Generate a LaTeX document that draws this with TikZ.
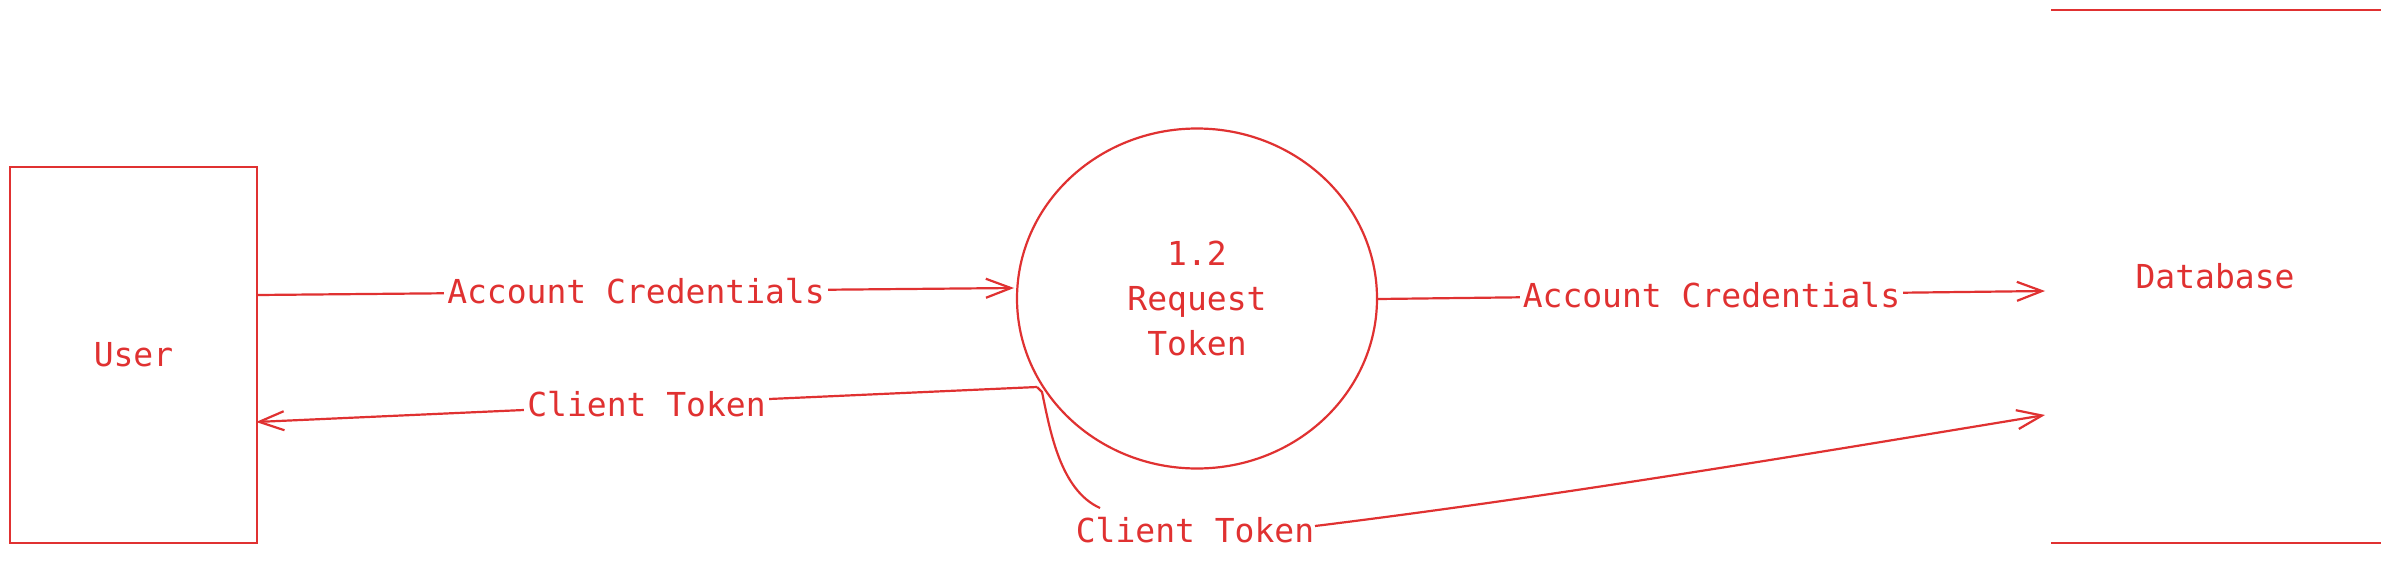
\documentclass[tikz,border=0pt]{standalone}
\usepackage{fontspec}
\newfontfamily\handfont{DejaVu Sans Mono}
\usetikzlibrary{arrows.meta,shapes.geometric}
\definecolor{exred}{RGB}{224,49,49}
\begin{document}
\begin{tikzpicture}[x=1pt,y=-1pt,
  every node/.style={font={\handfont\fontsize{33}{45}\selectfont}, text=exred},
  line/.style={draw=exred, line width=2.2pt},
  arr/.style={line, -{Straight Barb[length=25pt,width=19pt,line width=2.2pt]}},
  lab/.style={fill=white, inner sep=3pt},
]
\useasboundingbox (0,0) rectangle (2390,565);
\fill[white] (0,0) rectangle (2390,565);
% nodes
\node[line, rectangle, minimum width=247pt, minimum height=376pt, inner sep=0pt] (user) at (133.5,355) {User};
\node[line, ellipse, minimum width=360pt, minimum height=340pt, inner sep=0pt, align=center] (proc) at (1197,298.5) {1.2\\Request\\Token};
\node (db) at (2215,276) {Database};
\draw[line] (2051,10) coordinate (dbtl) -- (2381,10) coordinate (dbtr);
\draw[line] (2051,543) coordinate (dbbl) -- (2381,543) coordinate (dbbr);
% connector end points
\coordinate (u1) at (258,295);
\coordinate (p1) at (1014,288);
\coordinate (p2) at (1378,299);
\coordinate (d1) at (2045,291);
\coordinate (split) at (1037,387);
\coordinate (hook) at (1042,392);
\coordinate (u2) at (256,422);
\coordinate (c1) at (1100,508);
\coordinate (c2) at (1315,526);
\coordinate (d2) at (2045,415);
% connectors
\draw[arr] (u1) -- node[lab] (l1) {Account Credentials} (p1);
\draw[arr] (p2) -- node[lab] (l2) {Account Credentials} (d1);
\draw[arr] (split) -- node[lab] (l3) {Client Token} (u2);
\node[lab] (l4) at (1195,530) {Client Token};
\draw[line] (split) -- (hook) .. controls (1050,430) and (1060,490) .. (c1);
\draw[arr] (c2) .. controls (1558,496) and (1802,455) .. (d2);
\end{tikzpicture}
\end{document}
